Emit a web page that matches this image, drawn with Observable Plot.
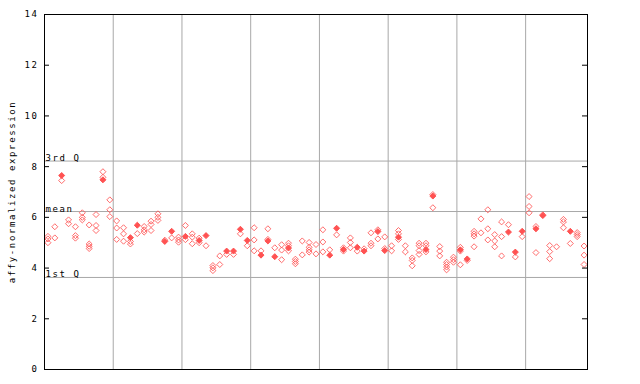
<!DOCTYPE html>
<html><head><meta charset="utf-8">
<script src="https://cdn.jsdelivr.net/npm/d3@7"></script>
<script src="https://cdn.jsdelivr.net/npm/@observablehq/plot@0.6"></script>
<style>body{margin:0;background:#fff}</style></head>
<body><div id="chart"></div>
<script>
const yTicks = [0, 2, 4, 6, 8, 10, 12, 14];
const yLabel = "affy-normalized expression";
const quartLabels = ["3rd Q", "mean", "1st Q"];
const quartValues = [8.22, 6.23, 3.63];
const groupBounds = [10, 20, 30, 40, 50, 60, 70];
const nSamples = 79;
// hollow (single) markers per sample
const hollowValues = [
  [5.0, 5.15, 5.25], [5.63, 5.19], [7.45], [5.9, 5.75], [5.63, 5.28, 5.18],
  [6.18, 6.0, 5.9], [5.7, 4.95, 4.86, 4.77], [6.11, 5.68, 5.48], [7.8, 7.58], [6.69, 6.3, 6.03],
  [5.86, 5.58, 5.13], [5.59, 5.35, 5.06], [5.05, 4.95], [5.36], [5.64, 5.51, 5.42],
  [5.85, 5.72, 5.48], [6.14, 6.0, 5.88], [5.1], [5.19], [5.22, 5.11, 5.02],
  [5.68, 5.12], [5.35, 5.22, 4.96], [5.18, 5.0], [4.88], [4.1, 4.01, 3.9],
  [4.48, 4.14], [4.54], [4.54], [5.35], [4.88],
  [5.59, 5.11, 4.68], [4.68], [5.55, 5.13], [4.8], [4.92, 4.71, 4.33],
  [4.98, 4.88, 4.68], [4.35, 4.26, 4.17], [5.07, 4.52], [5.01, 4.82, 4.72, 4.63], [4.93, 4.56],
  [5.51, 5.03, 4.64], [4.72], [5.31], [4.8, 4.67], [5.19, 5.01, 4.8],
  [4.67], [4.76], [5.39, 4.98, 4.88], [5.51, 5.15], [5.23, 4.77],
  [4.88, 4.68], [5.48, 5.35, 5.13], [4.88, 4.64], [4.4, 4.3, 4.09], [4.98, 4.88, 4.69, 4.54],
  [4.98, 4.88, 4.64], [6.9, 6.38], [4.85, 4.67, 4.48], [4.23, 4.14, 4.04, 3.93], [4.43, 4.33, 4.23],
  [4.82, 4.67, 4.13], [4.3], [5.45, 5.35, 5.26, 4.84], [5.94, 5.39], [6.3, 5.55, 5.11],
  [5.32, 5.07, 4.84], [5.82, 5.24, 4.48], [5.71], [4.44], [5.24],
  [6.82, 6.43, 6.18], [5.64, 4.61], [6.1], [4.89, 4.65, 4.37], [4.84],
  [5.92, 5.82, 5.59], [4.97], [5.4, 5.32, 5.24], [4.87, 4.51, 4.14]
];
// overlapping (solid-looking) markers per sample
const solidValues = [
  null, null, 7.65, null, null, null, null, null, 7.48, null,
  null, null, 5.2, 5.69, null, null, null, 5.05, 5.45, null,
  5.25, null, 5.09, 5.28, null, null, 4.67, 4.67, 5.53, 5.09,
  null, 4.51, 5.07, 4.45, null, 4.79, null, null, null, null,
  null, 4.51, 5.57, 4.73, null, 4.82, 4.67, null, 5.44, 4.69,
  null, 5.22, null, null, null, 4.73, 6.84, null, null, null,
  4.72, 4.36, null, null, null, null, null, 5.42, 4.63, 5.45,
  null, 5.55, 6.07, null, null, null, 5.45, null, null
];

const hollow = hollowValues.flatMap((vs, i) => vs.map(v => ({i: i + 0.5, v})));
const solid = solidValues.flatMap((v, i) => v == null ? [] : [{i: i + 0.5, v}]);

const W = 640, H = 384, ml = 44, mr = 53, mt = 14, mb = 15;
const fw = W - ml - mr;
const red = "#ff5252", gridC = "#a8a8a8";

const chart = Plot.plot({
  width: W, height: H,
  marginLeft: ml, marginRight: mr, marginTop: mt, marginBottom: mb,
  style: {fontFamily: "'DejaVu Sans Mono', monospace", fontSize: "9px", letterSpacing: "1.6px", background: "#fff", color: "#000"},
  x: {domain: [0, nSamples], axis: null},
  y: {domain: [0, 14], axis: null},
  marks: [
    Plot.ruleX(groupBounds, {stroke: gridC}),
    Plot.ruleY(quartValues, {stroke: gridC}),
    Plot.text(quartLabels, {x: () => 0, y: (d, i) => quartValues[i], text: d => d, textAnchor: "start", lineAnchor: "bottom", dx: 1, dy: 0, fill: "#000"}),
    Plot.dot(hollow, {x: "i", y: "v", symbol: "diamond2", r: 2.7, stroke: red, strokeOpacity: 0.85, fill: "none", strokeWidth: 1}),
    Plot.dot(solid, {x: "i", y: "v", symbol: "diamond2", r: 2.7, fill: red, stroke: red, strokeWidth: 1}),
    Plot.axisY({ticks: yTicks, tickSize: 0, tickPadding: 6, tickFormat: d => String(d), label: null}),
    Plot.tickY(yTicks, {y: d => d, insetRight: fw - 5, stroke: "#000"}),
    Plot.tickY(yTicks, {y: d => d, insetLeft: fw - 5, stroke: "#000"}),
    Plot.frame({stroke: "#000"}),
    Plot.text([yLabel], {frameAnchor: "left", textAnchor: "middle", rotate: -90, dx: -32, text: d => d, fill: "#000"})
  ]
});
document.getElementById("chart").appendChild(chart);
</script>
</body></html>
